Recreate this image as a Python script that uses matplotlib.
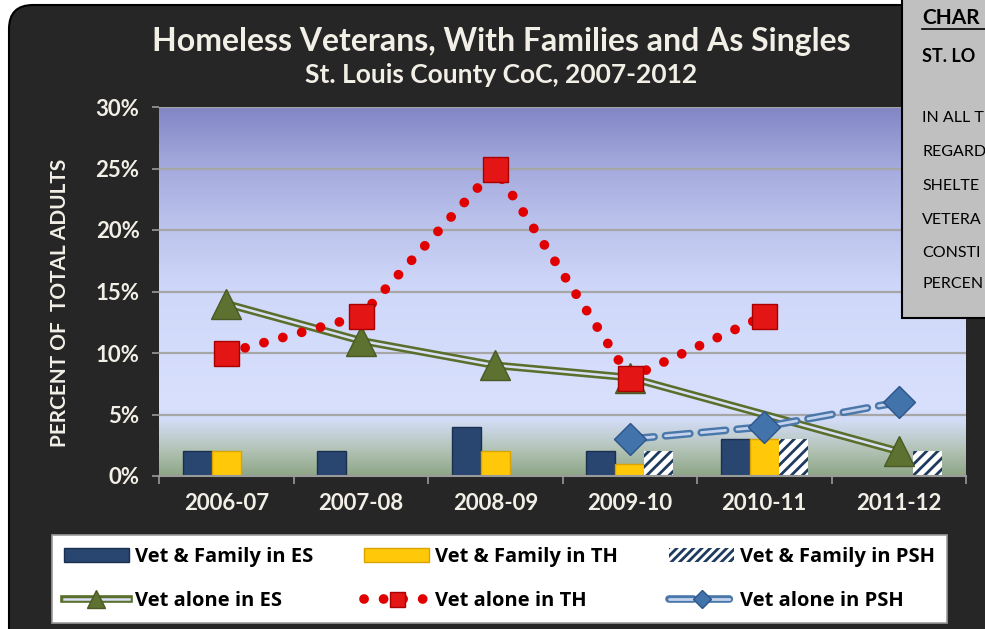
import matplotlib
matplotlib.use('Agg')
import matplotlib.pyplot as plt
import numpy as np
from matplotlib.patches import FancyBboxPatch, Rectangle, Patch
from matplotlib.lines import Line2D
from matplotlib.legend_handler import HandlerTuple
import matplotlib.patheffects as pe
from matplotlib.colors import LinearSegmentedColormap

# ---------------- data ----------------
categories = ['2006-07', '2007-08', '2008-09', '2009-10', '2010-11', '2011-12']
fam_es = [2, 2, 4, 2, 3, 0]
fam_th = [2, 0, 2, 1, 3, 0]
fam_psh = [0, 0, 0, 2, 3, 2]
alone_es = [14, 11, 9, 8, None, 2]
alone_th = [10, 13, 25, 8, 13, None]
alone_psh = [None, None, None, 3, 4, 6]
y_ticks = [0, 5, 10, 15, 20, 25, 30]
y_tick_labels = ['0%', '5%', '10%', '15%', '20%', '25%', '30%']
series_labels = ['Vet & Family in ES', 'Vet & Family in TH', 'Vet & Family in PSH',
                 'Vet alone in ES', 'Vet alone in TH', 'Vet alone in PSH']

FONT = 'Lato'
TXT = '#f2efe6'
W, H = 985, 629

fig = plt.figure(figsize=(W / 100, H / 100), dpi=100)
fig.patch.set_facecolor('white')

# background panel (pixel coordinates)
bg = fig.add_axes([0, 0, 1, 1], zorder=-5)
bg.set_xlim(0, W)
bg.set_ylim(H, 0)
bg.axis('off')
bg.add_patch(FancyBboxPatch((9, 5), 1000, 660, boxstyle='round,pad=0,rounding_size=24',
                            facecolor='#262626', edgecolor='#000000', linewidth=1.5))

# ---------------- main axes ----------------
ax = fig.add_axes([159 / W, (H - 476) / H, 807 / W, 369 / H])
ax.set_xlim(-0.5, 5.5)
ax.set_ylim(0, 30)

cmap = LinearSegmentedColormap.from_list('bgc', [
    (0.00, '#8ea687'), (0.07, '#b3c3b6'), (0.15, '#d3dcf6'), (0.19, '#d8e0fd'),
    (0.50, '#d0d8fa'), (0.70, '#b9c0ea'), (0.85, '#a3a8dc'), (1.00, '#8286c4')])
grad = np.linspace(0, 1, 256).reshape(-1, 1)
ax.imshow(grad, extent=[-0.5, 5.5, 0, 30], aspect='auto', cmap=cmap, origin='lower', zorder=0)

ax.set_axisbelow(True)
ax.set_yticks(y_ticks)
ax.set_yticklabels(y_tick_labels)
ax.yaxis.grid(True, color='#a6a6a6', linewidth=1.6)
for s in ['left', 'right', 'top']:
    ax.spines[s].set_visible(False)
ax.spines['bottom'].set_color('#9a9a9a')
ax.spines['bottom'].set_linewidth(1.5)

x = np.arange(len(categories))
ax.set_xticks(x)
ax.set_xticklabels(categories)
ax.set_xticks(np.arange(-0.5, len(categories)), minor=True)
ax.tick_params(axis='x', which='major', length=0, pad=12, labelcolor=TXT, labelsize=16)
ax.tick_params(axis='x', which='minor', length=6, color='#9a9a9a', width=1.2)
ax.tick_params(axis='y', length=5, color='#9a9a9a', width=1.2, pad=9, labelcolor=TXT, labelsize=16)
for lab in ax.get_xticklabels() + ax.get_yticklabels():
    lab.set_fontfamily(FONT)
    lab.set_fontweight('bold')

# bars
bw = 0.216
def draw_bars(vals, offset, **kw):
    xs = [i + offset for i, v in enumerate(vals) if v > 0]
    hs = [v for v in vals if v > 0]
    return ax.bar(xs, hs, width=bw, zorder=2, **kw)

plt.rcParams['hatch.linewidth'] = 2.0
draw_bars(fam_es, -bw, color='#284670', edgecolor='#1b3050', linewidth=1)
draw_bars(fam_th, 0, color='#ffc90a', edgecolor='#d9a300', linewidth=1)
draw_bars(fam_psh, bw, color='white', edgecolor='#1f3a5f', hatch='///', linewidth=0)

def valid(vals):
    xs = [i for i, v in enumerate(vals) if v is not None]
    ys = [v for v in vals if v is not None]
    return xs, ys

# Vet alone in ES: double olive line with triangles
ex, ey = valid(alone_es)
es_line, = ax.plot(ex, ey, color='#5b6f2c', linewidth=5, zorder=3,
                   path_effects=[pe.Stroke(linewidth=5.5, foreground='#5b6f2c'),
                                 pe.Stroke(linewidth=1.8, foreground='#d9dff6')])
es_mk, = ax.plot(ex, ey, linestyle='none', marker='^', markersize=21,
                 markerfacecolor='#5d7130', markeredgecolor='#4a5a24', zorder=4)

# Vet alone in TH: red dotted with squares
tx, ty = valid(alone_th)
th_line, = ax.plot(tx, ty, color='#e00000', linewidth=7, linestyle=(0, (0.01, 2.0)),
                   dash_capstyle='round', zorder=5)
th_mk, = ax.plot(tx, ty, linestyle='none', marker='s', markersize=18,
                 markerfacecolor='#e31515', markeredgecolor='#a80000', zorder=6)

# Vet alone in PSH: hollow dashed blue with diamonds
px, py = valid(alone_psh)
psh_line, = ax.plot(px, py, color='#4a78aa', linewidth=5.5, linestyle=(0, (3.2, 1.5)),
                    dash_capstyle='round', zorder=7,
                    path_effects=[pe.Stroke(linewidth=5.5, foreground='#4a78aa'),
                                  pe.Stroke(linewidth=2, foreground='#c4d2ee')])
psh_mk, = ax.plot(px, py, linestyle='none', marker='D', markersize=16,
                  markerfacecolor='#4273ab', markeredgecolor='#2d5588', zorder=8)

# titles
fig.text(501 / W, 1 - 42 / H, 'Homeless Veterans, With Families and As Singles',
         ha='center', va='center', color=TXT, fontsize=23, fontweight='bold', family=FONT)
fig.text(501 / W, 1 - 75 / H, 'St. Louis County CoC, 2007-2012',
         ha='center', va='center', color=TXT, fontsize=19, fontweight='bold', family=FONT)
fig.text(60 / W, 1 - 303 / H, 'PERCENT OF  TOTAL ADULTS', rotation=90,
         ha='center', va='center', color=TXT, fontsize=15, fontweight='bold', family=FONT)

# legend
handles = [Patch(facecolor='#284670', edgecolor='#1b3050'),
           (es_line, es_mk),
           Patch(facecolor='#ffc90a', edgecolor='#d9a300'),
           (th_line, th_mk),
           Patch(facecolor='white', edgecolor='#1f3a5f', hatch='////', linewidth=0),
           (psh_line, psh_mk)]
labels = [series_labels[0], series_labels[3], series_labels[1],
          series_labels[4], series_labels[2], series_labels[5]]
leg = fig.legend(handles, labels, ncol=3, loc='center', mode='expand',
                 bbox_to_anchor=(42 / W, 7 / H, 915 / W, 86 / H),
                 handler_map={tuple: HandlerTuple(ndivide=1)},
                 prop={'family': 'Open Sans', 'size': 14.5, 'weight': 'bold'}, handlelength=3.2,
                 handletextpad=0.3, labelspacing=1.15, borderpad=0.6,
                 fancybox=False, framealpha=1, edgecolor='#9c9c9c', facecolor='white',
                 markerscale=0.6)
leg.get_frame().set_linewidth(1.2)

# overlapping gray note box (top right)
ov = fig.add_axes([0, 0, 1, 1], zorder=20)
ov.set_xlim(0, W)
ov.set_ylim(H, 0)
ov.axis('off')
ov.patch.set_alpha(0)
ov.add_patch(Rectangle((902, -5), 100, 323, facecolor='#c0c0c0', edgecolor='#000000', linewidth=1.5))
ov.text(922, 18, 'CHAR', fontsize=15, fontweight='bold', family=FONT, va='center', color='black')
ov.plot([922, 990], [29, 29], color='black', linewidth=1.2)
ov.text(922, 56, 'ST. LO', fontsize=13, fontweight='bold', family=FONT, va='center', color='black')
for yy, t in zip([118, 152, 186, 220, 253, 284],
                 ['IN ALL T', 'REGARD', 'SHELTE', 'VETERA', 'CONSTI', 'PERCEN']):
    ov.text(922, yy, t, fontsize=11.5, family=FONT, va='center', color='black')

fig.savefig('out.png', dpi=100)
